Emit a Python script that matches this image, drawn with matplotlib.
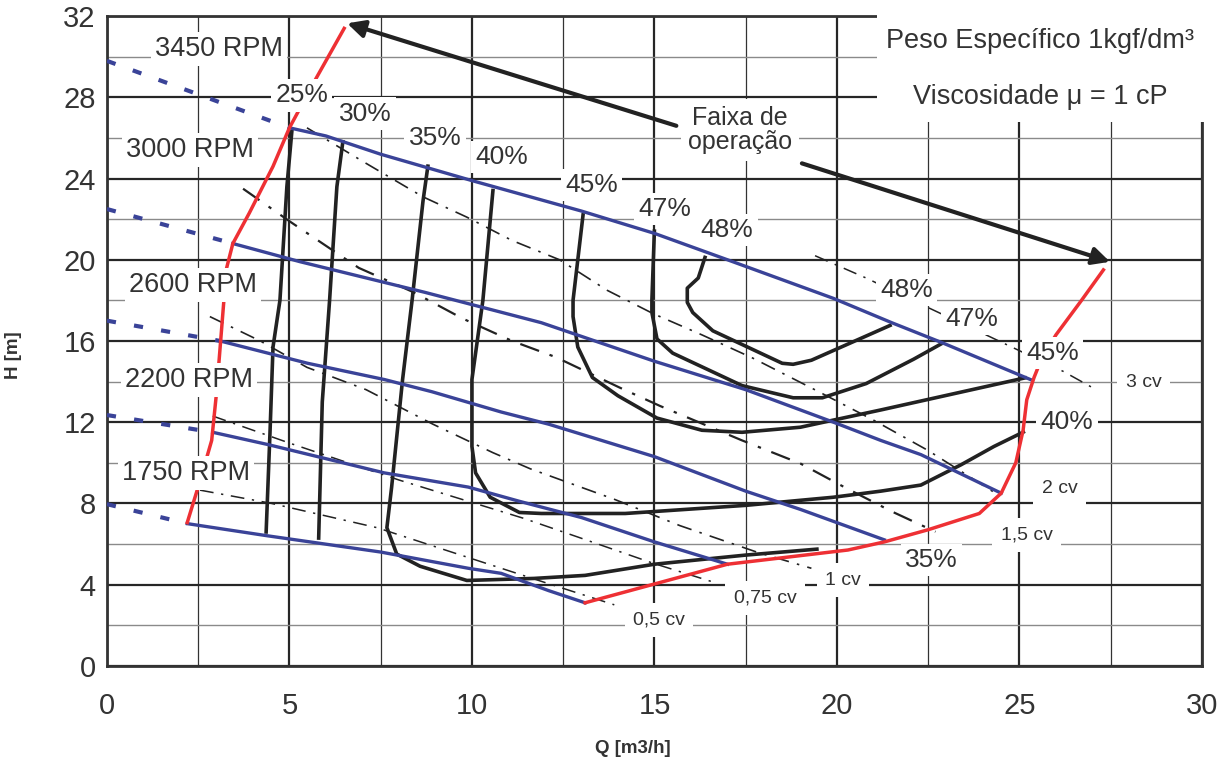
import matplotlib
matplotlib.use('Agg')
import matplotlib.pyplot as plt
from matplotlib.patches import Rectangle, FancyArrowPatch
from matplotlib.ticker import MultipleLocator

plt.rcParams['font.family'] = ['Liberation Sans', 'DejaVu Sans']

# ---------------- data ----------------
# H-Q curves (solid part, inside operating range)
q_3450 = [5.0, 6.0, 7.5, 10.0, 13.0, 15.0, 17.0, 19.9, 21.5, 22.9, 25.3]
h_3450 = [26.5, 26.1, 25.2, 23.9, 22.4, 21.3, 20.0, 18.1, 16.9, 15.9, 14.1]
q_3000 = [3.45, 5.3, 8.7, 11.9, 15.0, 17.5, 19.9, 21.2, 22.3, 24.5]
h_3000 = [20.8, 19.9, 18.4, 16.9, 15.0, 13.6, 12.0, 11.1, 10.4, 8.5]
q_2600 = [3.1, 5.5, 7.6, 8.9, 10.8, 12.1, 15.0, 17.5, 19.0, 21.3]
h_2600 = [16.0, 14.9, 14.1, 13.5, 12.5, 11.9, 10.3, 8.6, 7.7, 6.2]
q_2200 = [2.9, 4.4, 7.6, 9.9, 11.3, 13.0, 15.0, 17.0]
h_2200 = [11.5, 10.9, 9.5, 8.8, 8.1, 7.3, 6.1, 5.0]
q_1750 = [2.2, 4.4, 7.5, 9.9, 10.8, 12.1, 13.1]
h_1750 = [7.0, 6.4, 5.6, 4.8, 4.55, 3.7, 3.1]

# dashed extensions to shut-off (Q = 0)
ext_q_3450 = [0.0, 5.0]
ext_h_3450 = [29.8, 26.5]
ext_q_3000 = [0.0, 3.45]
ext_h_3000 = [22.5, 20.8]
ext_q_2600 = [0.0, 3.1]
ext_h_2600 = [17.0, 16.0]
ext_q_2200 = [0.0, 2.9]
ext_h_2200 = [12.35, 11.5]
ext_q_1750 = [0.0, 2.2]
ext_h_1750 = [7.96, 7.0]

rpm_labels = ['3450 RPM', '3000 RPM', '2600 RPM', '2200 RPM', '1750 RPM']
rpm_label_q = [3.07, 2.27, 2.36, 2.25, 2.16]
rpm_label_h = [30.4, 25.4, 18.75, 14.07, 9.5]

# operating range boundary (red)
red_left_q = [2.2, 2.55, 2.87, 3.0, 3.2, 3.28, 3.45, 3.9, 4.55, 5.0, 5.75, 6.5]
red_left_h = [7.05, 9.1, 11.1, 13.4, 17.9, 19.6, 20.8, 22.3, 24.6, 26.5, 29.0, 31.4]
red_right_q = [13.1, 17.0, 20.3, 21.3, 22.5, 23.9, 24.5, 24.9, 25.1, 25.2, 25.4, 25.6, 26.0, 26.7, 27.3]
red_right_h = [3.1, 5.0, 5.7, 6.1, 6.7, 7.5, 8.5, 10.0, 11.6, 13.1, 14.2, 15.1, 16.3, 18.0, 19.5]

# iso-efficiency curves
q_e25 = [5.07, 4.93, 4.74, 4.55, 4.47, 4.36]
h_e25 = [26.4, 23.6, 18.0, 15.7, 11.6, 6.5]
q_e30 = [6.47, 6.3, 6.1, 5.9, 5.8]
h_e30 = [25.9, 23.6, 18.0, 13.0, 6.2]
q_e35 = [8.8, 8.66, 8.36, 8.1, 7.8, 7.67, 7.94, 8.58, 9.86, 11.7, 13.1, 15.0, 17.5, 19.5]
h_e35 = [24.7, 22.9, 18.0, 14.1, 8.8, 6.8, 5.5, 4.9, 4.2, 4.3, 4.45, 5.0, 5.45, 5.75]
q_e40 = [10.58, 10.3, 10.0, 10.0, 10.1, 10.5, 11.3, 11.9, 14.2, 17.5, 19.9, 21.2, 22.3, 23.4, 24.3, 25.15]
h_e40 = [23.5, 18.0, 14.1, 10.8, 9.5, 8.3, 7.55, 7.5, 7.5, 7.9, 8.3, 8.6, 8.9, 9.9, 10.8, 11.55]
q_e45 = [13.05, 12.77, 12.77, 12.9, 13.3, 14.0, 15.07, 16.3, 17.4, 19.0, 19.9, 21.2, 23.45, 25.2]
h_e45 = [22.3, 18.0, 17.2, 15.7, 14.2, 13.3, 12.2, 11.6, 11.5, 11.75, 12.1, 12.6, 13.5, 14.2]
q_e47 = [15.0, 14.93, 14.93, 15.07, 15.5, 17.4, 18.8, 19.6, 20.8, 22.1, 22.9]
h_e47 = [21.5, 18.0, 17.4, 16.1, 15.4, 13.8, 13.2, 13.2, 13.9, 15.1, 15.9]
q_e48 = [16.4, 16.2, 15.9, 15.9, 16.05, 16.6, 18.5, 18.8, 19.3, 21.5]
h_e48 = [20.2, 19.1, 18.6, 17.9, 17.4, 16.5, 14.9, 14.85, 15.05, 16.8]

eff_labels = ['25%', '30%', '35%', '40%', '45%', '47%', '48%', '48%', '47%', '45%', '40%', '35%']
eff_label_q = [5.34, 7.07, 8.99, 10.82, 13.28, 15.29, 16.99, 21.9, 23.7, 25.9, 26.3, 22.6]
eff_label_h = [28.1, 27.2, 26.0, 25.05, 23.67, 22.5, 21.46, 18.5, 17.07, 15.4, 12.0, 5.2]

# power lines (cv)
q_p05 = [2.55, 4.5, 7.4, 9.95, 12.05, 13.9]
h_p05 = [8.65, 8.0, 6.8, 5.3, 4.07, 3.0]
q_p075 = [2.9, 5.0, 8.0, 11.4, 12.9, 14.96, 16.7]
h_p075 = [12.3, 10.97, 9.15, 7.27, 6.34, 5.05, 4.07]
q_p1 = [2.82, 4.2, 5.48, 7.1, 8.93, 10.57, 11.6, 13.9, 15.7, 17.8, 19.3]
h_p1 = [17.2, 16.0, 14.7, 13.6, 11.9, 10.5, 9.7, 8.2, 6.9, 5.6, 4.8]
q_p15 = [3.73, 5.0, 6.9, 8.4, 9.75, 11.1, 12.3, 14.05, 15.15, 17.4, 19.0, 20.2, 21.5, 22.7]
h_p15 = [23.5, 21.9, 19.6, 18.4, 17.1, 16.0, 15.2, 13.7, 12.8, 11.1, 9.96, 8.8, 7.6, 6.6]
q_p2 = [5.48, 7.1, 8.66, 9.86, 11.1, 12.4, 13.7, 14.96, 16.3, 17.7, 19.5, 21.0, 22.5, 24.3]
h_p2 = [26.5, 24.75, 23.1, 22.1, 20.95, 20.0, 18.5, 17.35, 16.3, 15.15, 13.5, 12.1, 10.6, 8.55]
q_p3 = [19.4, 20.8, 22.55, 24.2, 26.2, 27.1]
h_p3 = [20.2, 19.1, 17.6, 16.2, 14.5, 13.6]

cv_labels = ['0,5 cv', '0,75 cv', '1 cv', '1,5 cv', '2 cv', '3 cv']
cv_label_q = [15.12, 18.03, 20.16, 25.2, 26.1, 28.4]
cv_label_h = [2.25, 3.33, 4.22, 6.43, 8.75, 13.97]

x_ticks = [0, 5, 10, 15, 20, 25, 30]
y_ticks = [0, 4, 8, 12, 16, 20, 24, 28, 32]

# ---------------- figure ----------------
BLUE = '#3a4398'
RED = '#ee3034'
BLACK = '#222222'
TXT = '#333333'

fig = plt.figure(figsize=(12.29, 7.57), dpi=100)
ax = fig.add_axes([0.087, 0.1206, 0.891, 0.858])
ax.set_xlim(0, 30)
ax.set_ylim(0, 32)

ax.set_xticks(x_ticks)
ax.set_yticks(y_ticks)
ax.xaxis.set_minor_locator(MultipleLocator(2.5))
ax.yaxis.set_minor_locator(MultipleLocator(2))
ax.grid(which='major', color='#262626', lw=1.6, zorder=0)
ax.xaxis.grid(which='minor', color='#333333', lw=0.9, zorder=0)
ax.yaxis.grid(which='minor', color='#8a8a8a', lw=1.0, zorder=0)
ax.set_axisbelow(True)
ax.tick_params(which='both', length=0)
ax.tick_params(axis='x', labelsize=21, pad=19, colors=TXT)
ax.tick_params(axis='y', labelsize=21, pad=8, colors=TXT)
for s in ax.spines.values():
    s.set_linewidth(2.0)
    s.set_color('#333333')

ax.set_xlabel('Q [m3/h]', fontsize=13.5, fontweight='bold', color=TXT)
ax.set_ylabel('H [m]', fontsize=13.5, fontweight='bold', color=TXT)
ax.xaxis.set_label_coords(0.48, -0.114)
ax.yaxis.set_label_coords(-0.078, 0.478)

# white panel at the top-right (covers grid/border)
ax.add_patch(Rectangle((21.1, 26.8), 10, 6, facecolor='white', edgecolor='none',
                       zorder=3, clip_on=False))
ax.text(25.56, 30.8, 'Peso Específico 1kgf/dm³', fontsize=19.5, ha='center', va='center',
        color=TXT, zorder=6)
ax.text(25.56, 28.0, 'Viscosidade μ = 1 cP', fontsize=19.5, ha='center', va='center',
        color=TXT, zorder=6)

# power lines
pstyle = dict(color=BLACK, zorder=2)
ax.plot(q_p05, h_p05, lw=1.1, ls=(0, (9, 5, 1.5, 5)), **pstyle)
ax.plot(q_p075, h_p075, lw=1.1, ls=(0, (9, 5, 1.5, 5)), **pstyle)
ax.plot(q_p1, h_p1, lw=1.2, ls=(0, (9, 5, 1.5, 5)), **pstyle)
ax.plot(q_p15, h_p15, lw=1.6, ls=(0, (9, 5, 1.5, 5)), **pstyle)
ax.plot(q_p2, h_p2, lw=1.2, ls=(0, (9, 5, 1.5, 5)), **pstyle)
ax.plot(q_p3, h_p3, lw=1.1, ls=(0, (9, 5, 1.5, 5)), **pstyle)

# efficiency curves
for q, h in [(q_e25, h_e25), (q_e30, h_e30), (q_e35, h_e35), (q_e40, h_e40),
             (q_e45, h_e45), (q_e47, h_e47), (q_e48, h_e48)]:
    ax.plot(q, h, color=BLACK, lw=2.6, zorder=3, solid_capstyle='butt')

# H-Q curves
for q, h in [(q_3450, h_3450), (q_3000, h_3000), (q_2600, h_2600),
             (q_2200, h_2200), (q_1750, h_1750)]:
    ax.plot(q, h, color=BLUE, lw=2.4, zorder=4)
for q, h in [(ext_q_3450, ext_h_3450), (ext_q_3000, ext_h_3000), (ext_q_2600, ext_h_2600),
             (ext_q_2200, ext_h_2200), (ext_q_1750, ext_h_1750)]:
    ax.plot(q, h, color=BLUE, lw=3.0, ls=(0, (2.2, 4.4)), zorder=4)

# operating range boundary
ax.plot(red_left_q, red_left_h, color=RED, lw=2.5, zorder=4)
ax.plot(red_right_q, red_right_h, color=RED, lw=2.5, zorder=4)

# labels
bb = dict(facecolor='white', edgecolor='none', pad=3)
for t, q, h in zip(rpm_labels, rpm_label_q, rpm_label_h):
    ax.text(q, h, t, fontsize=19.5, ha='center', va='center', color=TXT, bbox=bb, zorder=6)
for t, q, h in zip(eff_labels, eff_label_q, eff_label_h):
    ax.text(q, h, t, fontsize=19, ha='center', va='center', color=TXT, bbox=bb, zorder=6)
bbs = dict(facecolor='white', edgecolor='none', pad=6)
for t, q, h in zip(cv_labels, cv_label_q, cv_label_h):
    ax.text(q, h, t, fontsize=14, ha='center', va='center', color=TXT, bbox=bbs, zorder=6)

# operating range arrows
ax.text(17.34, 26.4, 'Faixa de\noperação', fontsize=18, ha='center', va='center',
        color=TXT, linespacing=1.0, bbox=dict(facecolor='white', edgecolor='none', pad=5),
        zorder=6)
for start, end in [((15.6, 26.6), (6.58, 31.65)), ((19.04, 24.75), (27.48, 19.9))]:
    ax.add_patch(FancyArrowPatch(start, end, arrowstyle='-|>', mutation_scale=26,
                                 lw=3, color=BLACK, zorder=5, shrinkA=0, shrinkB=0))

fig.savefig('out.png', dpi=100, facecolor='white')
